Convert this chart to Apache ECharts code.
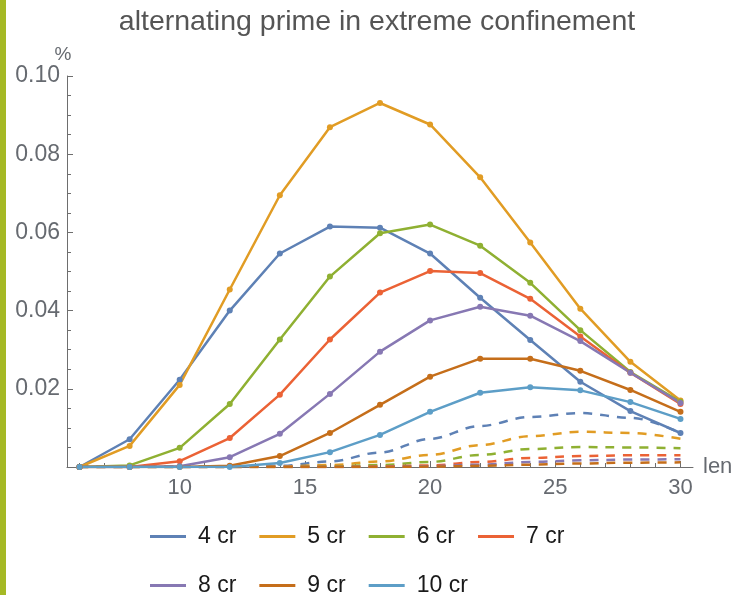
<!DOCTYPE html>
<html>
<head>
<meta charset="utf-8">
<script src="https://cdn.jsdelivr.net/npm/echarts@6/dist/echarts.min.js"></script>
<style>
  html, body { margin: 0; padding: 0; background: #fff; }
  #chart { width: 740px; height: 595px; }
</style>
</head>
<body>
<div id="chart"></div>
<script>
// lengths sampled
const lens = [6, 8, 10, 12, 14, 16, 18, 20, 22, 24, 26, 28, 30];

// measured fraction (%) per crossing number, solid curves with markers
const cr4  = [0, 0.0071, 0.0223, 0.0400, 0.0546, 0.0615, 0.0612, 0.0546, 0.0433, 0.0325, 0.0218, 0.0143, 0.0087];
const cr5  = [0, 0.0054, 0.0210, 0.0454, 0.0695, 0.0869, 0.0931, 0.0876, 0.0741, 0.0574, 0.0405, 0.0269, 0.0170];
const cr6  = [0, 0.0004, 0.0049, 0.0161, 0.0326, 0.0487, 0.0598, 0.0620, 0.0566, 0.0471, 0.0350, 0.0243, 0.0167];
const cr7  = [0, 0, 0.0015, 0.0074, 0.0185, 0.0326, 0.0446, 0.0501, 0.0496, 0.0430, 0.0334, 0.0241, 0.0161];
const cr8  = [0, 0, 0.0002, 0.0025, 0.0085, 0.0187, 0.0295, 0.0375, 0.0410, 0.0387, 0.0322, 0.0241, 0.0164];
const cr9  = [0, 0, 0, 0.0003, 0.0028, 0.0087, 0.0159, 0.0231, 0.0277, 0.0277, 0.0246, 0.0197, 0.0141];
const cr10 = [0, 0, 0, 0, 0.0010, 0.0038, 0.0082, 0.0141, 0.0190, 0.0204, 0.0196, 0.0166, 0.0123];

// higher crossing numbers, dashed curves
const cr11 = [0, 0, 0, 0, 0.0003, 0.0014, 0.0037, 0.0072, 0.0105, 0.0128, 0.0138, 0.0126, 0.0087];
const cr12 = [0, 0, 0, 0, 0.0001, 0.0005, 0.0014, 0.0031, 0.0056, 0.0079, 0.0090, 0.0087, 0.0072];
const cr13 = [0, 0, 0, 0, 0, 0.0001, 0.0005, 0.0013, 0.0031, 0.0046, 0.0051, 0.0050, 0.0048];
const cr14 = [0, 0, 0, 0, 0, 0, 0.0001, 0.0004, 0.0013, 0.0023, 0.0028, 0.0030, 0.0030];
const cr15 = [0, 0, 0, 0, 0, 0, 0, 0.0002, 0.0006, 0.0013, 0.0017, 0.0019, 0.0020];
const cr16 = [0, 0, 0, 0, 0, 0, 0, 0.0001, 0.0003, 0.0006, 0.0009, 0.0011, 0.0012];

const solidNames = ['4 cr', '5 cr', '6 cr', '7 cr', '8 cr', '9 cr', '10 cr'];
const solidData = [cr4, cr5, cr6, cr7, cr8, cr9, cr10];
const dashedData = [cr11, cr12, cr13, cr14, cr15, cr16];

const xMajorTicks = [10, 15, 20, 25, 30];
const xMinorTicks = [6, 7, 8, 9, 11, 12, 13, 14, 16, 17, 18, 19, 21, 22, 23, 24, 26, 27, 28, 29];

const palette = ['#5e81b5', '#e19c24', '#8fb032', '#eb6235', '#8778b3', '#c56e1a', '#5d9ec7'];

const pair = arr => lens.map((x, i) => [x, arr[i]]);

const series = [];
dashedData.forEach((arr, i) => {
  series.push({
    name: 'd' + (i + 11),
    type: 'line',
    data: pair(arr),
    smooth: 0.35,
    smoothMonotone: 'x',
    showSymbol: false,
    symbol: 'none',
    lineStyle: { color: palette[i], width: 2.5, type: [9, 8] },
    itemStyle: { color: palette[i] },
    z: 2
  });
});
solidData.forEach((arr, i) => {
  series.push({
    name: solidNames[i],
    type: 'line',
    data: pair(arr),
    symbol: 'circle',
    symbolSize: 6,
    lineStyle: { color: palette[i], width: 2.5 },
    itemStyle: { color: palette[i] },
    z: 3
  });
});

const axisGray = '#6e6e6e';
const labelGray = '#666a70';
const font = '"Liberation Sans", Arial, sans-serif';

const legendBase = {
  orient: 'horizontal',
  left: 150,
  padding: 0,
  icon: 'rect',
  itemWidth: 36,
  itemHeight: 3,
  itemGap: 23,
  textStyle: { fontFamily: font, fontSize: 23, color: '#1a1a1a', padding: [0, 0, 0, 7] }
};

const option = {
  animation: false,
  backgroundColor: '#ffffff',
  title: {
    text: 'alternating prime in extreme confinement',
    left: 372,
    textAlign: 'center',
    top: 3,
    textStyle: { fontFamily: font, fontSize: 28.5, fontWeight: 'normal', color: '#555555' }
  },
  legend: [
    Object.assign({}, legendBase, { top: 525, data: solidNames.slice(0, 4) }),
    Object.assign({}, legendBase, { top: 574, data: solidNames.slice(4) })
  ],
  grid: { left: 67, right: 47, top: 76, bottom: 128, containLabel: false },
  xAxis: [
    {
      type: 'value',
      min: 5.5,
      max: 30.5,
      name: 'len',
      nameLocation: 'end',
      nameGap: 10,
      nameTextStyle: { fontFamily: font, fontSize: 22, color: labelGray, verticalAlign: 'middle' },
      axisLine: { show: true, onZero: false, lineStyle: { color: axisGray, width: 1 } },
      axisTick: { show: true, inside: true, length: 6, customValues: xMajorTicks, lineStyle: { color: axisGray } },
      axisLabel: { show: true, customValues: xMajorTicks, margin: 10, fontFamily: font, fontSize: 22, color: labelGray },
      splitLine: { show: false }
    },
    {
      type: 'value',
      min: 5.5,
      max: 30.5,
      position: 'bottom',
      axisLine: { show: false },
      axisTick: { show: true, inside: true, length: 4, customValues: xMinorTicks, lineStyle: { color: axisGray } },
      axisLabel: { show: false },
      splitLine: { show: false }
    }
  ],
  yAxis: {
    type: 'value',
    min: 0,
    max: 0.1,
    interval: 0.02,
    name: '%',
    nameLocation: 'end',
    nameGap: 8,
    nameTextStyle: { fontFamily: font, fontSize: 19, color: labelGray, align: 'center', padding: [0, 8, 0, 0] },
    axisLine: { show: true, lineStyle: { color: axisGray, width: 1 } },
    axisTick: { show: true, inside: true, length: 6, lineStyle: { color: axisGray } },
    minorTick: { show: true, splitNumber: 4, length: 4, lineStyle: { color: axisGray } },
    axisLabel: {
      margin: 7,
      fontFamily: font,
      fontSize: 23,
      color: labelGray,
      formatter: v => (v === 0 ? '' : v.toFixed(2))
    },
    splitLine: { show: false }
  },
  graphic: [
    {
      type: 'rect',
      left: 0,
      top: 0,
      shape: { x: 0, y: 0, width: 6, height: 595 },
      style: { fill: '#a5b925' },
      silent: true
    }
  ],
  series: series
};

const chart = echarts.init(document.getElementById('chart'), null, { renderer: 'canvas' });
chart.setOption(option);
</script>
</body>
</html>
